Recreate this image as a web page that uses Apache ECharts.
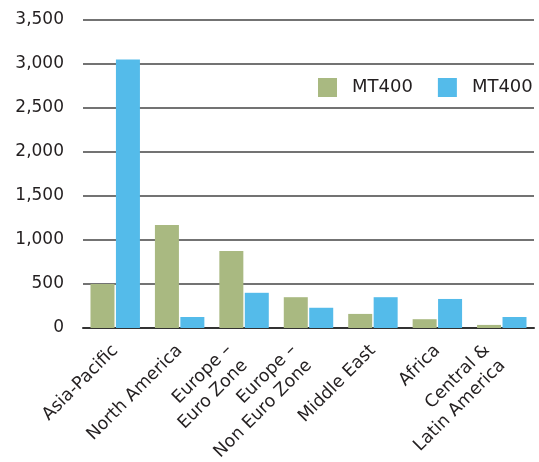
<!DOCTYPE html>
<html>
<head>
<meta charset="utf-8">
<script src="https://cdn.jsdelivr.net/npm/echarts@6/dist/echarts.min.js"></script>
<style>
  html, body { margin: 0; padding: 0; background: #fff; }
  #chart { width: 539px; height: 462px; }
</style>
</head>
<body>
<div id="chart"></div>
<script>
const categories = [
  'Asia-Pacific',
  'North America',
  'Europe –\nEuro Zone',
  'Europe –\nNon Euro Zone',
  'Middle East',
  'Africa',
  'Central &\nLatin America'
]
const seriesNames = ['MT400', 'MT400']
const greenValues = [500, 1170, 875, 350, 160, 100, 35]
const blueValues = [3050, 125, 400, 230, 350, 330, 125]

const textColor = '#231f20'
const font = 'DejaVu Sans'

const chart = echarts.init(document.getElementById('chart'))

// two-line labels sit a bit lower in the original
const axisData = categories.map((c) =>
  c.includes('\n') ? { value: c, textStyle: { padding: [13, 10, 0, 0] } } : c
)

chart.setOption({
  animation: false,
  textStyle: { fontFamily: font },
  grid: { left: 83, right: 5, top: 20, bottom: 134, outerBoundsMode: 'none' },
  legend: {
    left: 318,
    top: 78,
    width: 221,
    padding: 0,
    orient: 'horizontal',
    itemWidth: 19,
    itemHeight: 19,
    itemGap: 25,
    icon: 'rect',
    textStyle: { color: textColor, fontSize: 18, fontFamily: font, padding: [0, 0, 0, 10] },
    data: ['a', 'b'],
    formatter: (name) => seriesNames[name === 'a' ? 0 : 1]
  },
  xAxis: {
    type: 'category',
    data: axisData,
    axisTick: { show: false },
    axisLine: { lineStyle: { color: '#333', width: 2 } },
    axisLabel: {
      interval: 0,
      rotate: 45,
      margin: 20,
      color: textColor,
      fontSize: 17.5,
      lineHeight: 22,
      align: 'right'
    }
  },
  yAxis: {
    type: 'value',
    min: 0,
    max: 3500,
    interval: 500,
    axisLine: { show: false },
    axisTick: { show: false },
    axisLabel: {
      color: textColor,
      fontSize: 17,
      margin: 19,
      formatter: (v) => v.toLocaleString('en-US')
    },
    splitLine: { lineStyle: { color: '#444', width: 1.5 } }
  },
  series: [
    {
      name: 'a',
      type: 'bar',
      data: greenValues,
      barWidth: 24,
      barGap: '6%',
      itemStyle: { color: '#a9b981' }
    },
    {
      name: 'b',
      type: 'bar',
      data: blueValues,
      barWidth: 24,
      itemStyle: { color: '#54bbea' }
    }
  ]
})
</script>
</body>
</html>
